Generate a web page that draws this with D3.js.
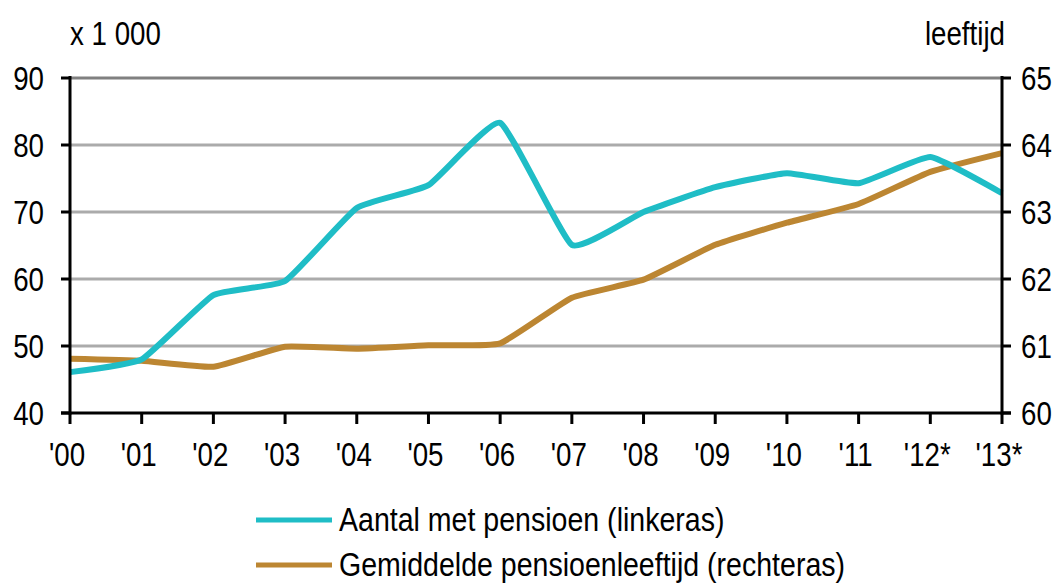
<!DOCTYPE html>
<html><head><meta charset="utf-8">
<script src="https://cdn.jsdelivr.net/npm/d3@7"></script>
<style>body{margin:0;background:#fff;} text{font-family:"Liberation Sans",Arial,sans-serif;fill:#000;}</style>
</head><body>
<svg id="c" width="1056" height="584"></svg>
<script>
const years = ["'00","'01","'02","'03","'04","'05","'06","'07","'08","'09","'10","'11","'12*","'13*"];
const aantal = [46.1,48.0,57.6,59.7,70.6,74.0,83.3,65.1,70.0,73.7,75.8,74.3,78.2,72.8];
const leeftijd = [60.81,60.78,60.69,60.99,60.96,61.01,61.04,61.72,61.99,62.51,62.84,63.12,63.60,63.88];
const leftTicks = [40,50,60,70,80,90];
const rightTicks = [60,61,62,63,64,65];
const seriesNames = ["Aantal met pensioen (linkeras)","Gemiddelde pensioenleeftijd (rechteras)"];
const colors = ["#1FBDC6","#BC8632"];

const svg = d3.select("#c");
const x0 = 70, x1 = 1002, yTop = 78, yBot = 413;
const x = d3.scalePoint().domain(years).range([x0, x1]);
const yL = d3.scaleLinear().domain([40,90]).range([yBot, yTop]);
const yR = d3.scaleLinear().domain([60,65]).range([yBot, yTop]);
const SX = 0.84;

function label(g, tx, ty, str, size, anchor) {
  g.append("text")
    .attr("transform", `translate(${tx},${ty}) scale(${SX},1)`)
    .attr("text-anchor", anchor || "start")
    .style("font-size", size)
    .text(str);
}

// gridlines
svg.append("g").selectAll("line").data(leftTicks.filter(d=>d>40)).join("line")
  .attr("x1", x0).attr("x2", x1).attr("y1", d=>yL(d)).attr("y2", d=>yL(d))
  .attr("stroke", d=> d===90 ? "#808080" : "#ababab").attr("stroke-width", 3);

// lines
const lineL = d3.line().x((d,i)=>x(years[i])).y(d=>yL(d)).curve(d3.curveCardinal.tension(0.6));
const lineR = d3.line().x((d,i)=>x(years[i])).y(d=>yR(d)).curve(d3.curveCardinal.tension(0.6));
svg.append("path").attr("d", lineR(leeftijd)).attr("fill","none").attr("stroke",colors[1]).attr("stroke-width",6);
svg.append("path").attr("d", lineL(aantal)).attr("fill","none").attr("stroke",colors[0]).attr("stroke-width",6);

// axes
const fs = "33px";
const ax = svg.append("g").attr("stroke","#000").attr("stroke-width",3);
ax.append("line").attr("x1",x0).attr("x2",x0).attr("y1",yTop-2).attr("y2",yBot+1.5);
ax.append("line").attr("x1",x1).attr("x2",x1).attr("y1",yTop-2).attr("y2",yBot+1.5);
ax.append("line").attr("x1",x0-9).attr("x2",x1+9).attr("y1",yBot).attr("y2",yBot);
ax.selectAll(".lt").data(leftTicks).join("line").attr("x1",x0-9).attr("x2",x0).attr("y1",d=>yL(d)).attr("y2",d=>yL(d));
ax.selectAll(".rt").data(rightTicks).join("line").attr("x1",x1).attr("x2",x1+9).attr("y1",d=>yR(d)).attr("y2",d=>yR(d));
ax.selectAll(".xt").data(years).join("line").attr("x1",d=>x(d)).attr("x2",d=>x(d)).attr("y1",yBot).attr("y2",yBot+11);

const tl = svg.append("g");
leftTicks.forEach(d => label(tl, 44, yL(d)+12, d, fs, "end"));
rightTicks.forEach(d => label(tl, 1021, yR(d)+12, d, fs, "start"));
years.forEach(d => label(tl, x(d)-3, 466, d, fs, "middle"));

label(svg, 70, 45, "x 1 000", fs, "start");
label(svg, 1005, 45, "leeftijd", fs, "end");

// legend
const leg = svg.append("g");
seriesNames.forEach((n,i)=>{
  const yy = 520 + i*45;
  leg.append("line").attr("x1",256).attr("x2",332).attr("y1",yy).attr("y2",yy).attr("stroke",colors[i]).attr("stroke-width",5);
  label(leg, 339, yy+11, n, "34px", "start");
});
</script>
</body></html>
